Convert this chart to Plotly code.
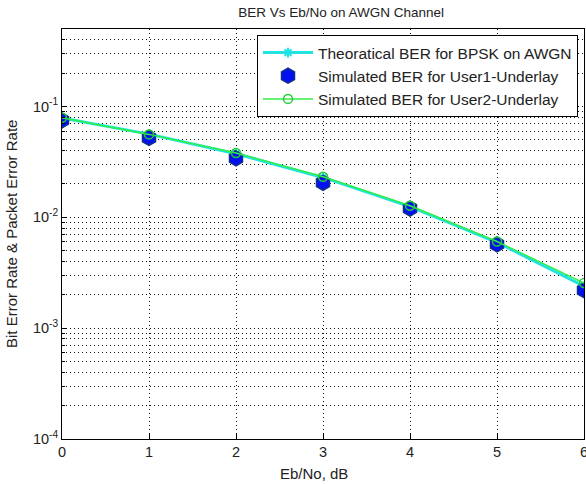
import plotly.graph_objects as go

ebno_db = [0, 1, 2, 3, 4, 5, 6]
ber_theory = [0.0786, 0.0563, 0.0375, 0.0229, 0.0125, 0.00595, 0.00239]
ber_user1 = [0.0750, 0.0520, 0.0340, 0.0205, 0.0120, 0.00570, 0.00220]
ber_user2 = [0.0790, 0.0560, 0.0380, 0.0232, 0.0127, 0.00605, 0.00255]

x_ticks = [0, 1, 2, 3, 4, 5, 6]
y_tickvals = [1e-4, 1e-3, 1e-2, 1e-1]
y_ticktext = ["10<sup>-4</sup>", "10<sup>-3</sup>", "10<sup>-2</sup>", "10<sup>-1</sup>"]

FONT = "Liberation Sans, Arial, sans-serif"
TXT = "#222222"

fig = go.Figure()
fig.add_trace(go.Scatter(
    x=ebno_db, y=ber_theory, mode="lines+markers",
    name="Theoratical BER for BPSK on AWGN",
    line=dict(color="#1FE3E3", width=3),
    marker=dict(symbol="asterisk", size=8, color="#1FE3E3", line=dict(color="#1FE3E3", width=2)),
))
fig.add_trace(go.Scatter(
    x=ebno_db, y=ber_user1, mode="markers",
    name="Simulated BER for User1-Underlay",
    marker=dict(symbol="hexagon", size=15, color="#0010F0", line=dict(color="#10308A", width=1.5)),
))
fig.add_trace(go.Scatter(
    x=ebno_db, y=ber_user2, mode="lines+markers",
    name="Simulated BER for User2-Underlay",
    line=dict(color="#33EE44", width=1.5),
    marker=dict(symbol="circle-open", size=9, color="#22CC33", line=dict(width=1.5)),
))

tick_font = dict(family=FONT, size=14.5, color=TXT)
label_font = dict(family=FONT, size=15, color=TXT)
grid = dict(showgrid=True, gridcolor="#111111", griddash="1px,3px", gridwidth=1)

fig.update_layout(
    width=586, height=484,
    margin=dict(l=62, r=2, t=29, b=45, autoexpand=False),
    paper_bgcolor="white", plot_bgcolor="white",
    title=dict(text="BER Vs Eb/No on AWGN Channel", x=0.582, xanchor="center",
               y=1 - 12 / 484, yanchor="middle",
               font=dict(family=FONT, size=13.5, color=TXT)),
    showlegend=True,
    legend=dict(x=1 - 6 / 522, xanchor="right", y=1 - 6 / 410, yanchor="top",
                bgcolor="white", bordercolor="black", borderwidth=1,
                font=dict(family=FONT, size=15.5, color=TXT),
                tracegroupgap=0, itemwidth=50),
    xaxis=dict(
        range=[0, 6], tickvals=x_ticks, ticks="inside", ticklen=5, tickcolor="black",
        showline=True, linecolor="black", linewidth=1, mirror=True,
        zeroline=False, tickfont=tick_font, automargin=False,
        ticklabeloverflow="allow", **grid,
    ),
    yaxis=dict(
        type="log", range=[-4, -0.30103],
        tickvals=y_tickvals, ticktext=y_ticktext,
        ticks="inside", ticklen=5, tickcolor="black",
        showline=True, linecolor="black", linewidth=1, mirror=True,
        minor=dict(showgrid=True, gridcolor="#111111", griddash="1px,3px", gridwidth=1,
                   ticks="inside", ticklen=3, tickcolor="black", dtick="D1"),
        zeroline=False, tickfont=tick_font, automargin=False, **grid,
    ),
    annotations=[
        dict(text="Eb/No, dB", xref="paper", yref="paper", x=0.483, y=-(473 - 439) / 410,
             xanchor="center", yanchor="middle", showarrow=False, font=label_font),
        dict(text="Bit Error Rate &amp; Packet Error Rate", xref="paper", yref="paper",
             x=-(62 - 11) / 522, y=0.5, xanchor="center", yanchor="middle",
             textangle=-90, showarrow=False, font=label_font),
    ],
)

fig.write_html(
    "out.html",
    config={"displayModeBar": False},
    post_script="document.body.style.margin='0';document.body.style.overflow='hidden';",
)
